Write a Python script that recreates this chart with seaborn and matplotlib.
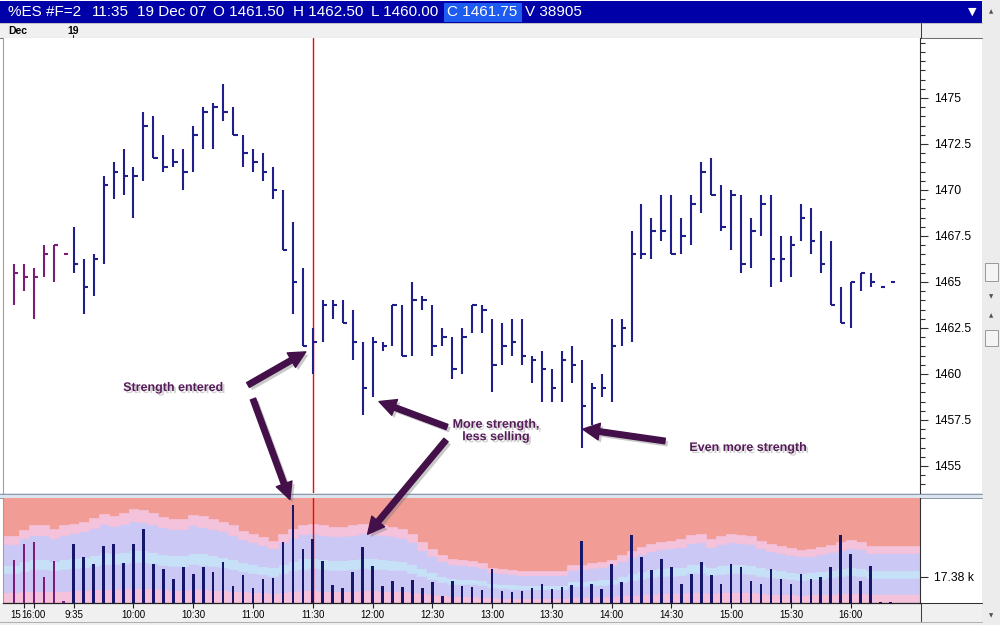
import numpy as np
import pandas as pd
import seaborn as sns
import matplotlib
matplotlib.use("Agg")
from matplotlib import pyplot as plt
from matplotlib import patheffects as pe
from matplotlib import transforms as mtransforms
from matplotlib.patches import Rectangle
from matplotlib.lines import Line2D
from matplotlib.ticker import FixedLocator, MultipleLocator, NullFormatter

# 5-minute HLC bars, %ES, 19 Dec 07 (first six bars are the previous evening)
HIGH = [1466.0, 1466.0, 1465.75, 1467.0, 1467.0, 1466.5, 1468.0, 1466.25, 1466.5, 1470.75,
        1471.5, 1472.25, 1471.25, 1474.25, 1474.0, 1473.0, 1472.25, 1472.25, 1473.5, 1474.5,
        1474.75, 1475.75, 1474.5, 1473.0, 1472.25, 1472.0, 1471.25, 1470.0, 1468.25, 1465.75,
        1462.5, 1464.0, 1464.0, 1464.0, 1463.5, 1461.75, 1462.0, 1461.75, 1463.75, 1463.75,
        1465.0, 1464.25, 1463.75, 1462.5, 1462.0, 1462.5, 1463.75, 1463.75, 1463.0, 1462.75,
        1463.0, 1463.0, 1461.0, 1461.25, 1460.25, 1461.25, 1461.5, 1460.75, 1459.5, 1460.0,
        1463.0, 1463.0, 1467.75, 1469.25, 1468.5, 1469.75, 1469.75, 1468.5, 1469.75, 1471.5,
        1471.75, 1470.25, 1470.0, 1469.75, 1468.5, 1469.75, 1469.75, 1467.5, 1467.5, 1469.25,
        1469.0, 1467.75, 1467.25, 1464.75, 1465.0, 1465.5, 1465.5, 1464.75, 1465.0]
LOW = [1463.75, 1464.5, 1463.0, 1465.25, 1465.0, 1466.5, 1465.5, 1463.25, 1464.25, 1466.0,
       1469.5, 1469.75, 1468.5, 1470.5, 1471.75, 1471.0, 1471.25, 1470.0, 1471.0, 1472.25,
       1472.25, 1473.75, 1473.0, 1471.25, 1471.0, 1470.5, 1469.5, 1466.75, 1463.25, 1461.5,
       1460.0, 1461.75, 1463.0, 1462.75, 1460.75, 1457.75, 1458.75, 1461.25, 1461.5, 1461.0,
       1461.0, 1463.5, 1461.0, 1461.5, 1459.75, 1460.0, 1462.25, 1462.25, 1459.0, 1460.5,
       1461.0, 1460.5, 1459.5, 1458.5, 1458.5, 1458.5, 1459.5, 1456.0, 1457.25, 1458.75,
       1458.5, 1461.5, 1461.75, 1466.25, 1466.25, 1467.25, 1466.5, 1466.5, 1467.0, 1468.75,
       1469.75, 1467.75, 1466.75, 1465.5, 1465.75, 1467.5, 1464.75, 1465.0, 1465.25, 1467.25,
       1466.5, 1465.5, 1463.75, 1462.75, 1462.5, 1464.5, 1464.75, 1464.75, 1465.0]
CLOSE = [1465.5, 1465.25, 1465.25, 1466.5, 1467.0, 1466.5, 1466.0, 1464.75, 1466.25, 1470.25,
         1471.0, 1470.75, 1470.75, 1473.5, 1471.75, 1471.25, 1471.5, 1471.0, 1473.0, 1474.25,
         1474.5, 1474.25, 1473.0, 1472.0, 1471.5, 1471.0, 1470.0, 1466.75, 1465.0, 1461.5,
         1461.75, 1463.75, 1463.75, 1462.75, 1461.75, 1459.25, 1461.75, 1461.5, 1463.75, 1461.0,
         1464.0, 1464.0, 1461.5, 1462.0, 1460.25, 1462.0, 1463.75, 1463.5, 1460.5, 1461.5,
         1461.75, 1461.0, 1460.75, 1460.25, 1459.25, 1460.75, 1460.5, 1458.25, 1459.25, 1459.25,
         1461.5, 1462.5, 1466.5, 1466.5, 1467.75, 1467.75, 1466.5, 1467.5, 1469.25, 1471.0,
         1469.75, 1468.0, 1469.75, 1466.0, 1467.75, 1469.25, 1466.25, 1466.25, 1467.0, 1468.5,
         1467.25, 1466.0, 1463.75, 1462.75, 1465.0, 1465.5, 1465.0, 1464.75, 1465.0]
VOLUME_K = [28.5, 38.8, 40.5, 16.9, 27.9, 1.1, 39.2, 30.3, 25.6, 37.4,
            39.2, 26.5, 39.2, 49.0, 25.8, 22.7, 15.6, 23.8, 19.4, 23.8,
            20.3, 27.0, 11.1, 18.3, 10.0, 15.6, 16.3, 40.5, 64.6, 35.6,
            42.3, 27.9, 11.6, 10.0, 20.5, 36.8, 24.5, 11.1, 14.3, 10.7,
            15.2, 10.0, 13.8, 4.9, 14.3, 11.1, 10.7, 8.9, 22.7, 7.8,
            7.1, 7.8, 10.0, 12.3, 9.4, 10.5, 11.6, 41.2, 12.3, 9.4,
            25.6, 13.8, 45.0, 30.3, 22.1, 29.4, 23.8, 12.9, 18.9, 27.2,
            18.3, 12.3, 25.8, 23.8, 14.3, 12.3, 22.7, 16.0, 12.9, 19.4,
            15.6, 17.4, 23.6, 45.0, 32.3, 14.3, 24.5, 0.9, 0.9]
SESSION = ["prev"] * 6 + ["day"] * 83

# volume background bands (k), one value per bar slot, slots run past the last bar
BAND_1 = [44.5, 48.6, 51.3, 51.3, 49.0, 51.3, 52.4, 53.9, 56.2, 59.1,
          57.9, 59.7, 61.9, 61.3, 59.7, 56.8, 55.7, 55.7, 58.4, 57.5,
          55.7, 53.9, 51.3, 47.9, 45.7, 43.5, 41.2, 45.7, 49.0, 51.7,
          52.4, 51.3, 50.2, 50.2, 51.3, 52.4, 51.7, 51.3, 50.2, 49.0,
          45.7, 40.1, 35.7, 31.7, 29.4, 28.5, 27.9, 26.3, 23.4, 22.3,
          21.6, 21.2, 21.0, 21.0, 21.0, 21.0, 25.0, 25.4, 26.3, 27.4,
          28.3, 31.7, 34.6, 36.8, 39.0, 40.6, 41.2, 42.3, 45.0, 45.7,
          42.3, 44.1, 45.7, 45.0, 44.1, 41.2, 39.0, 37.9, 36.1, 35.2,
          35.7, 36.8, 38.3, 40.1, 41.7, 40.6, 37.9, 37.9, 37.9, 37.9,
          37.9, 37.9]
BAND_2 = [39.2, 42.8, 45.1, 45.1, 43.1, 45.1, 46.1, 47.4, 49.5, 52.0,
          51.0, 52.5, 54.5, 53.9, 52.5, 50.0, 49.0, 49.0, 51.4, 50.6,
          49.0, 47.4, 45.1, 42.2, 40.2, 38.3, 36.3, 40.2, 43.1, 45.5,
          46.1, 45.1, 44.2, 44.2, 45.1, 46.1, 45.5, 45.1, 44.2, 43.1,
          40.2, 35.3, 31.4, 27.9, 25.9, 25.1, 24.6, 23.1, 20.6, 19.6,
          19.0, 18.7, 18.5, 18.5, 18.5, 18.5, 22.0, 22.4, 23.1, 24.1,
          24.9, 27.9, 30.4, 32.4, 34.3, 35.7, 36.3, 37.2, 39.6, 40.2,
          37.2, 38.8, 40.2, 39.6, 38.8, 36.3, 34.3, 33.4, 31.8, 31.0,
          31.4, 32.4, 33.7, 35.3, 36.7, 35.7, 33.4, 33.4, 33.4, 33.4,
          33.4, 33.4]
BAND_3 = [25.4, 27.7, 29.2, 29.2, 27.9, 29.2, 29.9, 30.7, 32.0, 33.7,
          33.0, 34.0, 35.3, 34.9, 34.0, 32.4, 31.7, 31.7, 33.3, 32.8,
          31.7, 30.7, 29.2, 27.3, 26.0, 24.8, 23.5, 26.0, 27.9, 29.5,
          29.9, 29.2, 28.6, 28.6, 29.2, 29.9, 29.5, 29.2, 28.6, 27.9,
          26.0, 22.9, 20.3, 18.1, 16.8, 16.2, 15.9, 15.0, 13.3, 12.7,
          12.3, 12.1, 12.0, 12.0, 12.0, 12.0, 14.3, 14.5, 15.0, 15.6,
          16.1, 18.1, 19.7, 21.0, 22.2, 23.1, 23.5, 24.1, 25.7, 26.0,
          24.1, 25.1, 26.0, 25.7, 25.1, 23.5, 22.2, 21.6, 20.6, 20.1,
          20.3, 21.0, 21.8, 22.9, 23.8, 23.1, 21.6, 21.6, 21.6, 21.6,
          21.6, 21.6]
BAND_4 = [19.6, 21.4, 22.6, 22.6, 21.6, 22.6, 23.1, 23.7, 24.7, 26.0,
          25.5, 26.3, 27.2, 27.0, 26.3, 25.0, 24.5, 24.5, 25.7, 25.3,
          24.5, 23.7, 22.6, 21.1, 20.1, 19.1, 18.1, 20.1, 21.6, 22.7,
          23.1, 22.6, 22.1, 22.1, 22.6, 23.1, 22.7, 22.6, 22.1, 21.6,
          20.1, 17.6, 15.7, 13.9, 12.9, 12.5, 12.3, 11.6, 10.3, 9.8,
          9.5, 9.3, 9.2, 9.2, 9.2, 9.2, 11.0, 11.2, 11.6, 12.1,
          12.5, 13.9, 15.2, 16.2, 17.2, 17.9, 18.1, 18.6, 19.8, 20.1,
          18.6, 19.4, 20.1, 19.8, 19.4, 18.1, 17.2, 16.7, 15.9, 15.5,
          15.7, 16.2, 16.9, 17.6, 18.3, 17.9, 16.7, 16.7, 16.7, 16.7,
          16.7, 16.7]
BAND_5 = [7.1, 7.8, 8.2, 8.2, 7.8, 8.2, 8.4, 8.6, 9.0, 9.5,
          9.3, 9.6, 9.9, 9.8, 9.6, 9.1, 8.9, 8.9, 9.3, 9.2,
          8.9, 8.6, 8.2, 7.7, 7.3, 7.0, 6.6, 7.3, 7.8, 8.3,
          8.4, 8.2, 8.0, 8.0, 8.2, 8.4, 8.3, 8.2, 8.0, 7.8,
          7.3, 6.4, 5.7, 5.1, 4.7, 4.6, 4.5, 4.2, 3.7, 3.6,
          3.5, 3.4, 3.4, 3.4, 3.4, 3.4, 4.0, 4.1, 4.2, 4.4,
          4.5, 5.1, 5.5, 5.9, 6.2, 6.5, 6.6, 6.8, 7.2, 7.3,
          6.8, 7.1, 7.3, 7.2, 7.1, 6.6, 6.2, 6.1, 5.8, 5.6,
          5.7, 5.9, 6.1, 6.4, 6.7, 6.5, 6.1, 6.1, 6.1, 6.1,
          6.1, 6.1]

PRICE_TICKS = [1455, 1457.5, 1460, 1462.5, 1465, 1467.5, 1470, 1472.5, 1475]
PRICE_LABELS = ["1455", "1457.5", "1460", "1462.5", "1465", "1467.5", "1470", "1472.5", "1475"]
VOL_TICKS = [17.38]
VOL_LABELS = ["17.38 k"]
TIME_BARS = [1, 2, 6, 12, 18, 24, 30, 36, 42, 48, 54, 60, 66, 72, 78, 84]
TIME_LABELS = ["15", "16:00", "9:35", "10:00", "10:30", "11:00", "11:30", "12:00", "12:30",
               "13:00", "13:30", "14:00", "14:30", "15:00", "15:30", "16:00"]
CURSOR_BAR = 30
HEADER = [("%ES #F=2", 8), ("11:35", 92), ("19 Dec 07", 137), ("O 1461.50", 213),
          ("H 1462.50", 293), ("L 1460.00", 371), ("C 1461.75", 447), ("V 38905", 525)]

NAVY = "#1f1f8c"
PURPLE = "#7a1c78"
SESSION_COLORS = {"prev": PURPLE, "day": "#16166a"}
SALMON, PINK, LAVENDER, ICE = "#f19c95", "#f5c2dc", "#cbc8f5", "#c5e0f7"
INK = "#43104a"
XLIM = (-1.1, 90.96)
PRICE_LIM = (1453.53, 1478.26)
VOL_LIM = (0, 69.5)

sns.set_theme(style="white")
plt.rcParams["font.family"] = ["Liberation Sans", "DejaVu Sans"]

W, H = 1000, 625
fig = plt.figure(figsize=(10, 6.25), dpi=100)
fig.patch.set_facecolor("white")


def box(x0, y0, x1, y1):
    return [x0 / W, 1 - y1 / H, (x1 - x0) / W, (y1 - y0) / H]


def frect(x0, y0, x1, y1, color, z=-1, **kw):
    fig.add_artist(Rectangle((x0 / W, 1 - y1 / H), (x1 - x0) / W, (y1 - y0) / H,
                             transform=fig.transFigure, facecolor=color, edgecolor="none",
                             zorder=z, **kw))


def fline(xs, ys, color, lw=0.75, z=-0.5):
    fig.add_artist(Line2D([x / W for x in xs], [1 - y / H for y in ys], transform=fig.transFigure,
                          color=color, lw=lw, zorder=z))


# window chrome
frect(0, 1, 982, 23, "#0000a8")
frect(444, 3, 522, 22, "#1e5bf0")
frect(0, 23, 982, 37.5, "#f0f0f0")
frect(0, 603, 982, 625, "#f0f0f0")
frect(982, 0, 1000, 625, "#ececec")
frect(0, 493, 982, 498, "#dde6ee")
fline([0, 982], [493.5, 493.5], "#8e9aa8")
fline([0, 982], [497.5, 497.5], "#8e9aa8")
fline([0, 982], [37.5, 37.5], "#707070")
fline([0, 982], [23, 23], "#c0c0c0")
fline([920.5, 920.5], [23, 37.5], "#404040")
fline([920.5, 920.5], [603, 622], "#404040")
fline([920, 982], [603, 603], "#303030")
fline([73, 73], [34.5, 37.5], "#202020")
fline([0, 982], [621.5, 621.5], "#b0b0b0")
for name, x in HEADER:
    fig.text(x / W, 1 - 12.5 / H, name, color="white", fontsize=11, va="center", ha="left")
fig.text(972 / W, 1 - 12 / H, "\u25bc", color="white", fontsize=8, ha="center", va="center",
         family="DejaVu Sans")
fig.text(8 / W, 1 - 30.5 / H, "Dec", fontsize=7.5, fontweight="bold", color="black", va="center")
fig.text(73.5 / W, 1 - 30.5 / H, "19", fontsize=7.5, fontweight="bold", color="black",
         va="center", ha="center")
for y0, y1 in [(263, 281), (330, 346)]:
    frect(985, y0, 998, y1, "#f4f4f4", z=1)
    fig.add_artist(Rectangle((985 / W, 1 - y1 / H), 13 / W, (y1 - y0) / H, transform=fig.transFigure,
                             facecolor="none", edgecolor="#9a9a9a", lw=0.7))
for y, s in [(12, "\u25b2"), (297, "\u25bc"), (316, "\u25b2"), (616, "\u25bc")]:
    fig.text(991 / W, 1 - y / H, s, fontsize=4, color="#505050", ha="center", va="center",
             family="DejaVu Sans")

bars = np.arange(len(HIGH))
bar_colors = [PURPLE if s == "prev" else NAVY for s in SESSION]

# price panel
ax = fig.add_axes(box(3, 38, 920, 493))
ax.set_facecolor("white")
ax.axvline(CURSOR_BAR, color="#ff0000", lw=1, zorder=1)
ax.vlines(bars, LOW, HIGH, colors=bar_colors, lw=1.5, zorder=3)
ax.hlines(CLOSE, bars, bars + 0.45, colors=bar_colors, lw=1.5, zorder=3)
ax.set_xlim(*XLIM)
ax.set_ylim(*PRICE_LIM)
ax.yaxis.tick_right()
ax.yaxis.set_major_locator(FixedLocator(PRICE_TICKS))
ax.set_yticklabels(PRICE_LABELS)
ax.yaxis.set_minor_locator(MultipleLocator(0.5))
ax.yaxis.set_minor_formatter(NullFormatter())
ax.tick_params(axis="y", which="major", right=True, length=5.5, width=0.8, color="#303030",
               labelsize=8.7, labelcolor="black", pad=4.5)
ax.tick_params(axis="y", which="minor", right=True, length=3.5, width=0.8, color="#303030")
ax.tick_params(axis="x", bottom=False, labelbottom=False)
for side in ["top", "bottom"]:
    ax.spines[side].set_visible(False)
ax.spines["right"].set_color("#303030")
ax.spines["right"].set_linewidth(0.8)
ax.spines["left"].set_color("#a0a0a0")
ax.spines["left"].set_linewidth(0.8)

# volume panel
axv = fig.add_axes(box(3, 498, 920, 603))
axv.set_facecolor(SALMON)
edges = np.arange(len(BAND_1) + 1) - 0.5
edges[0] = XLIM[0]
layers = [(BAND_5, 0, PINK), (BAND_4, BAND_5, LAVENDER), (BAND_3, BAND_4, ICE),
          (BAND_2, BAND_3, LAVENDER), (BAND_1, BAND_2, PINK)]
for top, base, c in layers:
    axv.stairs(top, edges, baseline=base, fill=True, facecolor=c, edgecolor=c, lw=0.5, zorder=0.5)
axv.axvline(CURSOR_BAR, color="#ff0000", lw=1, zorder=1)
vol = pd.DataFrame({"bar": bars, "volume": VOLUME_K, "session": SESSION})
sns.barplot(data=vol, x="bar", y="volume", hue="session", palette=SESSION_COLORS,
            native_scale=True, width=0.26, dodge=False, errorbar=None, saturation=1,
            legend=False, linewidth=0, ax=axv, zorder=3)
axv.set_xlabel("")
axv.set_ylabel("")
axv.set_xlim(*XLIM)
axv.set_ylim(*VOL_LIM)
axv.yaxis.tick_right()
axv.set_yticks(VOL_TICKS, VOL_LABELS)
axv.tick_params(axis="y", right=True, length=5.5, width=0.8, color="#303030", labelsize=8.7,
                labelcolor="black", pad=4.5)
axv.set_xticks(TIME_BARS, TIME_LABELS)
axv.tick_params(axis="x", bottom=True, length=3.5, width=0.8, color="#202020", labelsize=7,
                labelcolor="black", pad=1.5)
first = axv.get_xticklabels()[0]
first.set_horizontalalignment("right")
first.set_transform(first.get_transform()
                    + mtransforms.ScaledTranslation(-3 / 100, 0, fig.dpi_scale_trans))
axv.spines["top"].set_visible(False)
axv.spines["bottom"].set_color("#202020")
axv.spines["bottom"].set_linewidth(0.9)
axv.spines["right"].set_color("#303030")
axv.spines["right"].set_linewidth(0.8)
axv.spines["left"].set_color("#a0a0a0")
axv.spines["left"].set_linewidth(0.8)

# annotations, laid out in window pixels, pointing into the two panels
ann = fig.add_axes([0, 0, 1, 1], zorder=10)
ann.set_xlim(0, W)
ann.set_ylim(H, 0)
ann.axis("off")
ann.patch.set_alpha(0)

text_fx = [pe.withSimplePatchShadow(offset=(1.5, -1.5), shadow_rgbFace="#7a7a7a", alpha=0.35)]
arrow_fx = [pe.withSimplePatchShadow(offset=(2, -2), shadow_rgbFace="#7a7a7a", alpha=0.4)]
notes = [("Strength entered", 173, 388), ("More strength,\nless selling", 496, 431),
         ("Even more strength", 748, 448)]
for label, x, y in notes:
    ann.text(x, y, label, fontsize=9, fontweight="bold", color="#561c5a", ha="center",
             va="center", multialignment="center", linespacing=1.05, path_effects=text_fx)

arrows = [(ax, (29.3, 1461.2), (248, 385)), (axv, (27.7, 68.5), (253, 399)),
          (ax, (36.65, 1458.5), (447, 427)), (axv, (35.5, 45.5), (446, 440)),
          (ax, (57.1, 1457.0), (665, 441))]
for target, tip, tail in arrows:
    ann.annotate("", xy=tip, xycoords=target.transData, xytext=tail, textcoords=ann.transData,
                 arrowprops=dict(arrowstyle="simple,head_length=1.2,head_width=1.2,tail_width=0.4",
                                 mutation_scale=10, color=INK, shrinkA=0, shrinkB=0,
                                 path_effects=arrow_fx))

fig.savefig("out.png", dpi=100)
